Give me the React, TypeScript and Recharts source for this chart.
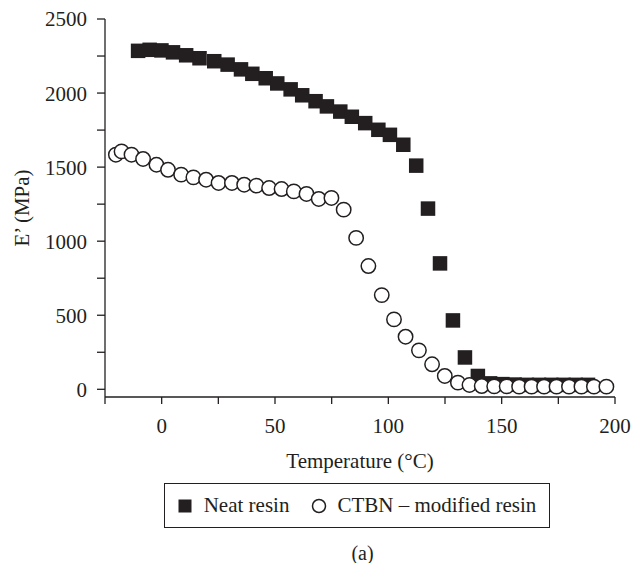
import React from 'react';
import { ScatterChart, Scatter, XAxis, YAxis, Legend, Label } from 'recharts';

const neatTemp = [-10.4, -5.3, -0.1, 5.0, 10.8, 16.7, 23.2, 29.1, 35.0, 40.0, 45.9, 51.0, 56.9, 62.0, 67.9, 72.9, 78.8, 83.9, 89.8, 95.6, 100.7, 106.6, 112.3, 117.5, 122.8, 128.5, 133.8, 139.5, 144.9, 150.3, 155.7, 161.1, 166.5, 171.9, 177.3, 182.7, 188.1];
const neatModulus = [2285, 2292, 2288, 2275, 2255, 2235, 2215, 2192, 2160, 2130, 2100, 2065, 2025, 1985, 1945, 1910, 1875, 1840, 1797, 1752, 1718, 1651, 1510, 1220, 850, 465, 215, 90, 40, 35, 32, 30, 30, 30, 30, 30, 30];

const ctbnTemp = [-20.2, -17.7, -13.3, -8.2, -2.3, 2.8, 8.6, 14.0, 19.6, 25.1, 31.0, 36.4, 41.8, 47.4, 52.9, 58.3, 63.9, 69.3, 74.9, 80.3, 85.8, 91.2, 97.1, 102.5, 107.6, 113.5, 119.3, 124.9, 130.7, 135.8, 141.2, 146.7, 152.2, 157.7, 163.2, 168.7, 174.2, 179.7, 185.2, 190.7, 196.2];
const ctbnModulus = [1584, 1606, 1584, 1555, 1516, 1482, 1449, 1431, 1415, 1393, 1393, 1381, 1375, 1359, 1352, 1336, 1319, 1285, 1292, 1213, 1022, 832, 636, 472, 355, 263, 169, 90, 45, 29, 22, 20, 20, 18, 18, 18, 18, 18, 18, 18, 18];

const xTicks = [-25, 0, 25, 50, 75, 100, 125, 150, 175, 200];
const yTicks = [0, 250, 500, 750, 1000, 1250, 1500, 1750, 2000, 2250, 2500];
const seriesNames = ['Neat resin', 'CTBN \u2013 modified resin'];
const xTitle = 'Temperature (\u00b0C)';
const yTitle = 'E\u2019 (MPa)';
const panelLabel = '(a)';

const neatData = neatTemp.map((t, i) => ({ t, e: neatModulus[i] }));
const ctbnData = ctbnTemp.map((t, i) => ({ t, e: ctbnModulus[i] }));

const INK = '#231f20';
const FONT = '"Liberation Serif", "Times New Roman", serif';
const FS = 21;

const SquareShape = (props: any) => {
  const { cx, cy } = props;
  if (cx == null || cy == null) return null;
  const s = 14.5;
  return <rect x={cx - s / 2} y={cy - s / 2} width={s} height={s} fill={INK} />;
};

const CircleShape = (props: any) => {
  const { cx, cy } = props;
  if (cx == null || cy == null) return null;
  return <circle cx={cx} cy={cy} r={7.2} fill="#fff" stroke={INK} strokeWidth={1.5} />;
};

const LegendBox = () => (
  <div
    style={{
      border: `1.5px solid ${INK}`,
      boxSizing: 'border-box',
      width: '100%',
      height: '100%',
      display: 'flex',
      alignItems: 'center',
      justifyContent: 'center',
      fontFamily: FONT,
      fontSize: FS,
      color: INK,
    }}
  >
    <svg width={14} height={14} style={{ marginRight: 12 }}>
      <rect x={0.5} y={0.5} width={13} height={13} fill={INK} />
    </svg>
    <span>{seriesNames[0]}</span>
    <svg width={16} height={16} style={{ marginLeft: 22, marginRight: 10 }}>
      <circle cx={8} cy={8} r={6.5} fill="#fff" stroke={INK} strokeWidth={1.5} />
    </svg>
    <span>{seriesNames[1]}</span>
  </div>
);

const YTitle = (props: any) => {
  const vb = props.viewBox || {};
  const x = (vb.x ?? 0) + 22;
  const y = (vb.y ?? 0) + (vb.height ?? 0) / 2;
  return (
    <text
      x={x}
      y={y}
      transform={`rotate(-90, ${x}, ${y})`}
      textAnchor="middle"
      dominantBaseline="central"
      fontFamily={FONT}
      fontSize={FS}
      fill={INK}
    >
      {yTitle}
    </text>
  );
};

const XTitle = (props: any) => {
  const vb = props.viewBox || {};
  const x = (vb.x ?? 0) + (vb.width ?? 0) / 2;
  const y = (vb.y ?? 0) + 64;
  return (
    <text x={x} y={y} textAnchor="middle" dominantBaseline="central" fontFamily={FONT} fontSize={FS} fill={INK}>
      {xTitle}
    </text>
  );
};

export default function App() {
  return (
    <div style={{ position: 'absolute', left: 0, top: 0, width: 635, height: 563, background: '#fff' }}>
      <ScatterChart width={635} height={563} margin={{ top: 19, right: 20, bottom: 0, left: 0 }}>
        <XAxis
          type="number"
          dataKey="t"
          domain={[-25, 200]}
          ticks={xTicks}
          interval={0}
          allowDataOverflow
          height={166}
          axisLine={{ stroke: INK, strokeWidth: 1.3 }}
          tickLine={{ stroke: INK, strokeWidth: 1.3 }}
          tickSize={7}
          tickMargin={14}
          tick={{ fill: INK, fontFamily: FONT, fontSize: FS }}
          tickFormatter={(v: number) => (v % 50 === 0 ? String(v) : '')}
        >
          <Label content={<XTitle />} />
        </XAxis>
        <YAxis
          type="number"
          dataKey="e"
          domain={[-52, 2500]}
          ticks={yTicks}
          interval={0}
          allowDataOverflow
          width={105}
          axisLine={{ stroke: INK, strokeWidth: 1.3 }}
          tickLine={{ stroke: INK, strokeWidth: 1.3 }}
          tickSize={8}
          tickMargin={10}
          tick={{ fill: INK, fontFamily: FONT, fontSize: FS }}
          tickFormatter={(v: number) => (v % 500 === 0 ? String(v) : '')}
        >
          <Label content={<YTitle />} />
        </YAxis>
        <Scatter name={seriesNames[0]} data={neatData} shape={<SquareShape />} isAnimationActive={false} />
        <Scatter name={seriesNames[1]} data={ctbnData} shape={<CircleShape />} isAnimationActive={false} />
        <Legend
          verticalAlign="middle"
          layout="horizontal"
          content={<LegendBox />}
          wrapperStyle={{ position: 'absolute', left: 164, top: 483, width: 386, height: 45 }}
        />
      </ScatterChart>
      <div
        style={{
          position: 'absolute',
          left: 0,
          width: 635,
          top: 541,
          textAlign: 'center',
          paddingLeft: 90,
          boxSizing: 'border-box',
          fontFamily: FONT,
          fontSize: 20,
          color: INK,
          lineHeight: '24px',
        }}
      >
        {panelLabel}
      </div>
    </div>
  );
}
